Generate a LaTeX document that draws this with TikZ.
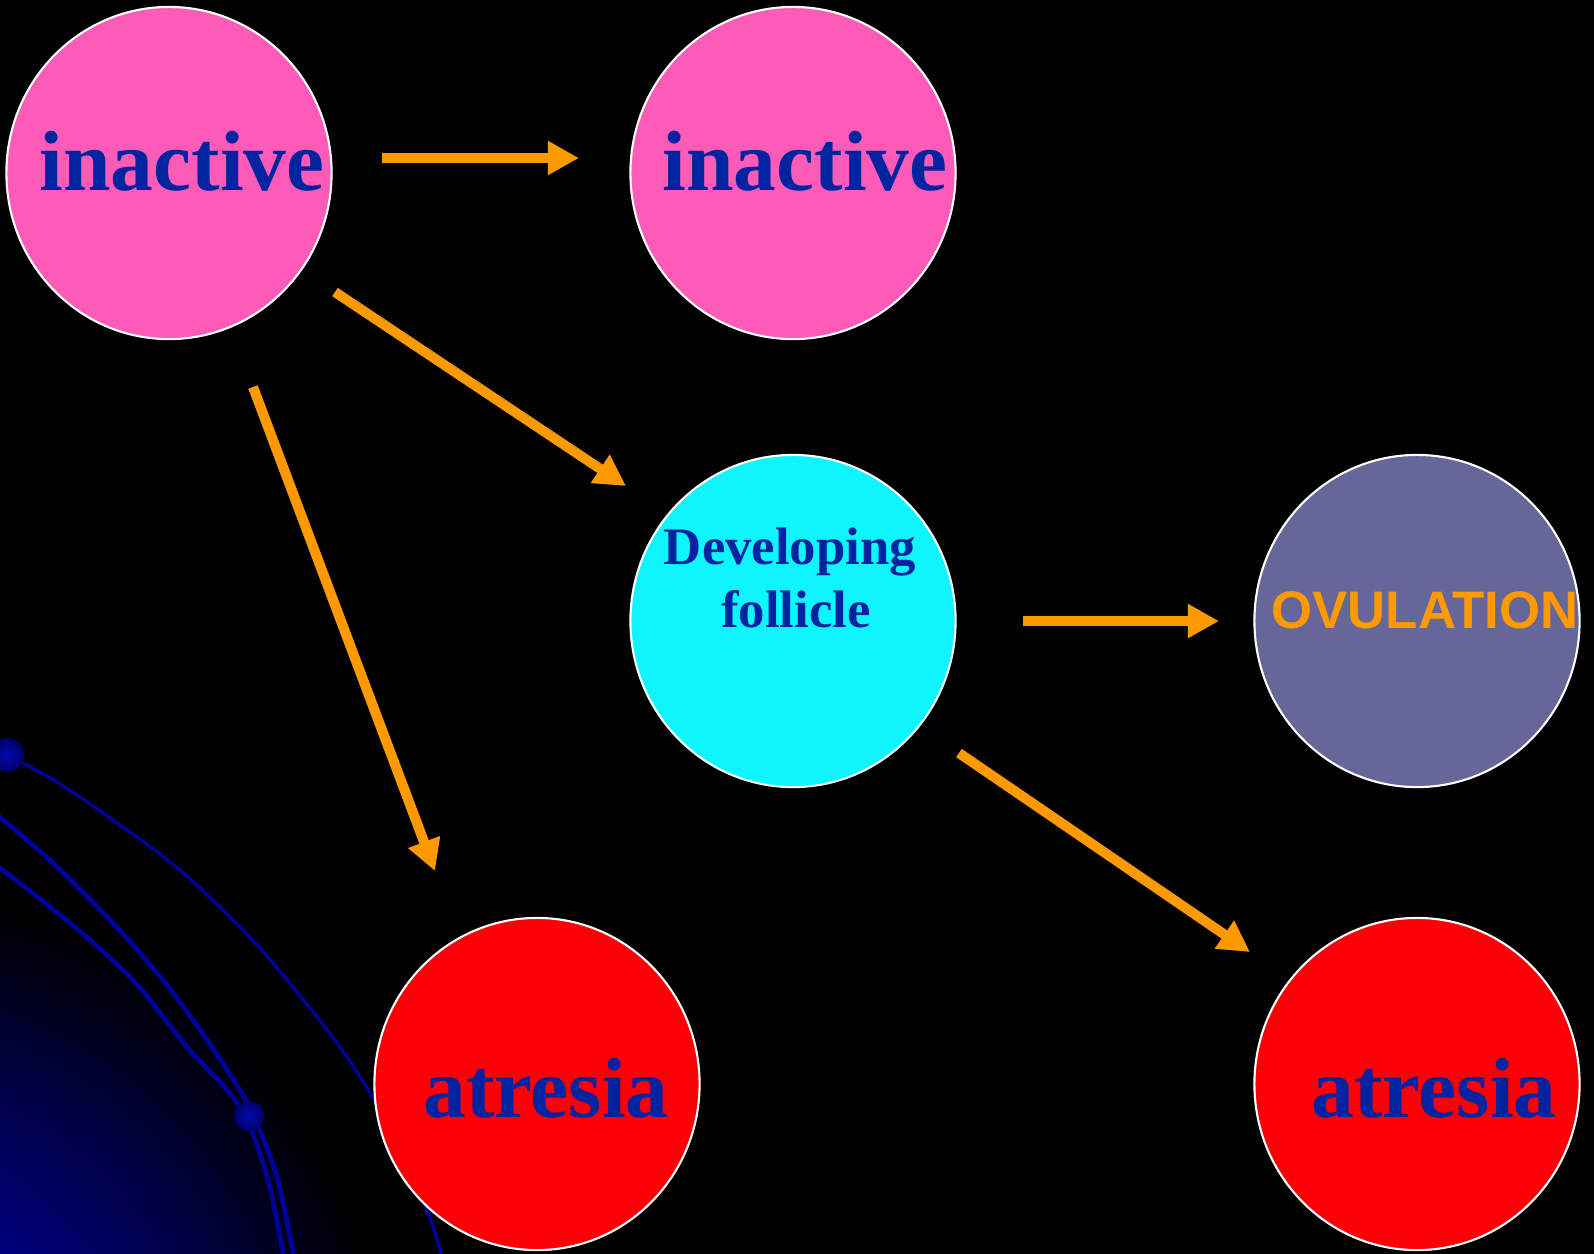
\documentclass[tikz,border=0pt]{standalone}
\usepackage{fontspec}
\setmainfont{Liberation Serif}
\newfontfamily\ovufont{Liberation Sans}
\usetikzlibrary{arrows.meta,shapes.geometric}
\definecolor{inactivepink}{RGB}{252,92,183}
\definecolor{devcyan}{RGB}{15,245,255}
\definecolor{ovugray}{RGB}{102,102,153}
\definecolor{atresred}{RGB}{252,0,8}
\definecolor{wordblue}{RGB}{0,35,160}
\definecolor{flowgold}{RGB}{255,153,0}
\definecolor{orbitblue}{RGB}{0,0,160}
\definecolor{glowblue}{RGB}{0,0,215}
\begin{document}
\begin{tikzpicture}[x=0.01cm,y=-0.01cm,
        bubble/.style={ellipse,draw=white,line width=0.6pt,minimum width=3.25cm,minimum height=3.32cm,inner sep=0pt},
        flow/.style={draw=flowgold,line width=0.1cm,-{Triangle[length=0.31cm,width=0.32cm]}},
        bigword/.style={anchor=base,text=wordblue,inner sep=0pt,font=\bfseries\fontsize{24.3}{28}\selectfont},
        smallword/.style={anchor=base,text=wordblue,inner sep=0pt,font=\bfseries\fontsize{15}{18}\selectfont},
        orbit/.style={draw=orbitblue,line width=1.3pt},
        planet/.style={inner color={rgb,255:red,0;green,10;blue,175},outer color={rgb,255:red,0;green,0;blue,105}}]

        \useasboundingbox (0,0) rectangle (1594,1253);
        \fill[black] (-10,-10) rectangle (1604,1263);

        \begin{scope}
            \clip (-10,-10) rectangle (1604,1263);
            \foreach \i [evaluate=\i as \r using 540-12*\i, evaluate=\i as \p using \i*2.25] in {0,...,44}
                \fill[glowblue!\p!black] (-140,1420) circle (\r);
            \draw[orbit,line width=0.9pt] plot[smooth] coordinates {(7,755) (57,782) (123,827) (180,870) (243,930) (293,987) (347,1057) (393,1133) (430,1218) (445,1270)};
            \draw[orbit] plot[smooth] coordinates {(-5,813) (53,863) (110,920) (163,980) (207,1040) (247,1103) (277,1177) (296,1270)};
            \draw[orbit] plot[smooth] coordinates {(-5,864) (70,923) (133,980) (187,1047) (240,1107) (268,1180) (286,1270)};
            \shade[planet] (7,755) circle (17);
            \shade[planet] (249,1116) circle (15);
        \end{scope}

        \node[bubble,fill=inactivepink] (in1) at (169,173) {};
        \node[bubble,fill=inactivepink] (in2) at (793,173) {};
        \node[bubble,fill=devcyan] (dev) at (793,621) {};
        \node[bubble,fill=ovugray] (ovu) at (1417,621) {};
        \node[bubble,fill=atresred] (atr1) at (537,1084) {};
        \node[bubble,fill=atresred] (atr2) at (1417,1084) {};

        \node[bigword] (in1txt) at (182,190) {inactive};
        \node[bigword] (in2txt) at (805,190) {inactive};
        \node[smallword] (devtxt) at (790,564) {Developing};
        \node[smallword] (foltxt) at (796,627) {follicle};
        \node[anchor=base,inner sep=0pt,text=flowgold,font=\ovufont\bfseries\fontsize{15}{18}\selectfont] (ovutxt) at (1425,628) {OVULATION};
        \node[bigword] (atr1txt) at (546,1117) {atresia};
        \node[bigword] (atr2txt) at (1434,1117) {atresia};

        \coordinate (a1s) at (382,158);
        \coordinate (a1e) at (579,158);
        \coordinate (a2s) at (335,292);
        \coordinate (a2e) at (626,486);
        \coordinate (a3s) at (253,387);
        \coordinate (a3e) at (435,871);
        \coordinate (a4s) at (1023,621);
        \coordinate (a4e) at (1219,621);
        \coordinate (a5s) at (959,753);
        \coordinate (a5e) at (1250,952);

        \draw[flow] (a1s) -- (a1e);
        \draw[flow] (a2s) -- (a2e);
        \draw[flow] (a3s) -- (a3e);
        \draw[flow] (a4s) -- (a4e);
        \draw[flow] (a5s) -- (a5e);

    \end{tikzpicture}
\end{document}
